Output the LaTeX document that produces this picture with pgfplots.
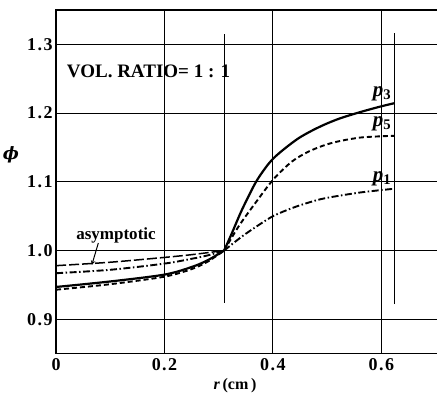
\documentclass[border=0pt]{standalone}
\usepackage{pgfplots}
\pgfplotsset{compat=1.18}
\usepackage{fontspec}
\setmainfont{Liberation Serif}
\newfontfamily\dvs{DejaVu Serif}
\begin{document}
\begin{tikzpicture}
\begin{axis}[
  at={(0pt,0pt)}, anchor=south west,
  width=381pt, height=343.3pt, scale only axis,
  xmin=0, xmax=0.7033, ymin=0.85, ymax=1.35,
  xtick={0,0.2,0.4,0.6}, xticklabels={0,0.2,0.4,0.6},
  ytick={0.9,1.0,1.1,1.2,1.3}, yticklabels={0.9,1.0,1.1,1.2,1.3},
  /pgf/number format/assume math mode=true,
  tick label style={font=\fontsize{18}{20}\selectfont\bfseries\addfontfeature{LetterSpace=8}},
  major tick length=0pt,
  grid=major, grid style={black, line width=0.9pt},
  axis line style={line width=1.4pt},
  xticklabel style={yshift=-1pt},
  yticklabel style={xshift=0pt},
  clip=false,
]
% p3 solid
\addplot[black, line width=2.2pt, smooth] coordinates {
(0,0.947) (0.1,0.955) (0.2,0.965) (0.25,0.976) (0.28,0.986) (0.31,1.0)};
\addplot[black, line width=2.2pt, smooth] coordinates {
(0.31,1.0) (0.3243,1.0253) (0.3428,1.0592) (0.3674,1.098) (0.3858,1.1199) (0.4012,1.1344)
(0.4227,1.149) (0.4474,1.1635) (0.472,1.1745) (0.4966,1.1838) (0.5243,1.1925) (0.5612,1.2015)
(0.598,1.2095) (0.6245,1.2145)};
% p5 dashed
\addplot[black, line width=1.9pt, smooth, dash pattern=on 5pt off 3pt] coordinates {
(0,0.943) (0.1,0.951) (0.2,0.962) (0.25,0.973) (0.28,0.984) (0.31,1.0)};
\addplot[black, line width=1.9pt, smooth, dash pattern=on 5pt off 3pt] coordinates {
(0.31,1.0) (0.3366,1.035) (0.3674,1.069) (0.4012,1.1039) (0.435,1.1295) (0.4658,1.144)
(0.4966,1.1537) (0.5243,1.1595) (0.5612,1.1644) (0.598,1.1662) (0.6245,1.167)};
% p1 dash-dot
\addplot[black, line width=1.9pt, smooth, dash pattern=on 7pt off 2.5pt on 1.5pt off 2.5pt] coordinates {
(0,0.967) (0.1,0.972) (0.2,0.981) (0.25,0.988) (0.28,0.993) (0.31,1.0)};
\addplot[black, line width=1.9pt, smooth, dash pattern=on 7pt off 2.5pt on 1.5pt off 2.5pt] coordinates {
(0.31,1.0) (0.3428,1.0204) (0.3735,1.037) (0.4012,1.0505) (0.435,1.0617) (0.4658,1.0698)
(0.4966,1.0762) (0.5612,1.0845) (0.6245,1.0900)};
% asymptotic
\addplot[black, line width=1.5pt, smooth, dash pattern=on 10pt off 3pt] coordinates {
(0,0.978) (0.1,0.983) (0.2,0.990) (0.25,0.994) (0.31,1.0)};
\addplot[black, line width=1.1pt] coordinates {(0.3107,0.924) (0.3107,1.315)};
\addplot[black, line width=1.1pt] coordinates {(0.6245,0.922) (0.6245,1.317)};
\draw[-stealth, line width=1pt] (axis cs:0.078,1.011) -- (axis cs:0.066,0.979);
\node[anchor=base west, font=\fontsize{17}{20}\selectfont\bfseries, inner sep=0pt] at (axis cs:0.037,1.0156) {asymptotic};
\node[anchor=base west, font=\fontsize{19}{22}\selectfont\bfseries, inner sep=0pt] at (axis cs:0.0197,1.252) {VOL. RATIO= 1 : 1};
\node[anchor=base west, font=\fontsize{21}{22}\selectfont\bfseries\itshape, inner sep=0pt] at (axis cs:0.584,1.224) {p\textsubscript{\upshape 3}};
\node[anchor=base west, font=\fontsize{21}{22}\selectfont\bfseries\itshape, inner sep=0pt] at (axis cs:0.584,1.1804) {p\textsubscript{\upshape 5}};
\node[anchor=base west, font=\fontsize{21}{22}\selectfont\bfseries\itshape, inner sep=0pt] at (axis cs:0.584,1.101) {p\textsubscript{\upshape 1}};
\node[font=\fontsize{17}{20}\selectfont\dvs\bfseries\itshape] at (axis cs:0,1.139) [xshift=-45pt] {ϕ};
\node[font=\fontsize{16}{18}\selectfont\bfseries] at (axis cs:0.33,0.85) [yshift=-32pt] {\textit{r}\,(cm\,)};
\end{axis}
\pgfresetboundingbox
\path (-56pt,-40.7pt) rectangle (380.6pt,353.3pt);
\end{tikzpicture}
\end{document}
